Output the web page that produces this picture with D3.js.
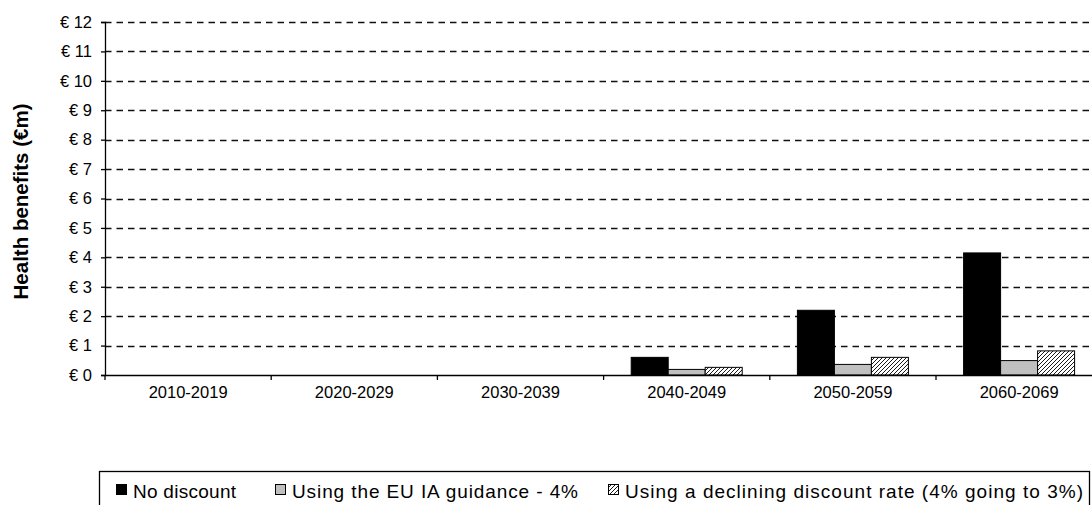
<!DOCTYPE html>
<html>
<head>
<meta charset="utf-8">
<script src="https://cdn.jsdelivr.net/npm/d3@7"></script>
<style>
  html, body { margin: 0; padding: 0; background: #fff; }
  svg { display: block; font-family: "Liberation Sans", Arial, sans-serif; }
</style>
</head>
<body>
<svg id="chart" width="1092" height="505"></svg>
<script>
const categories = ["2010-2019", "2020-2029", "2030-2039", "2040-2049", "2050-2059", "2060-2069"];
const seriesNames = ["No discount", "Using the EU IA guidance - 4%", "Using a declining discount rate (4% going to 3%)"];
const noDiscount = [0, 0, 0, 0.60, 2.20, 4.15];
const euGuidance = [0, 0, 0, 0.19, 0.36, 0.49];
const declining = [0, 0, 0, 0.26, 0.60, 0.82];
const yTicks = [0, 1, 2, 3, 4, 5, 6, 7, 8, 9, 10, 11, 12];

(function () {
const svg = d3.select("#chart");
const defs = svg.append("defs");
const pat = defs.append("pattern")
  .attr("id", "hatch").attr("patternUnits", "userSpaceOnUse")
  .attr("width", 4).attr("height", 4);
pat.append("rect").attr("width", 4).attr("height", 4).attr("fill", "#fff");
pat.append("path").attr("d", "M-1,1 l2,-2 M0,4 l4,-4 M3,5 l2,-2")
  .attr("stroke", "#000").attr("stroke-width", 0.9);

const mLeft = 105, mTop = 22, mBottom = 375;
const bandW = 166.2;
const x = d3.scaleBand().domain(categories).range([mLeft, mLeft + bandW * categories.length]).paddingInner(0).paddingOuter(0);
const y = d3.scaleLinear().domain([0, 12]).range([mBottom, mTop]);
const barW = 37;
const seriesData = [noDiscount, euGuidance, declining];
const fills = ["#000", "#c0c0c0", "url(#hatch)"];
const xSub = d3.scaleBand().domain([0, 1, 2]).range([-1.5 * barW, 1.5 * barW]);

// gridlines
svg.append("g").selectAll("line").data(yTicks.filter(d => d > 0)).join("line")
  .attr("x1", mLeft).attr("x2", 1092)
  .attr("y1", d => Math.round(y(d)) + 0.5).attr("y2", d => Math.round(y(d)) + 0.5)
  .attr("stroke", "#111").attr("stroke-width", 1.4).attr("stroke-dasharray", "6.5,5");

// bars
seriesData.forEach((vals, si) => {
  svg.append("g").selectAll("rect").data(vals.map((v, i) => ({ v, c: categories[i] })).filter(d => d.v > 0)).join("rect")
    .attr("x", d => x(d.c) + x.bandwidth() / 2 + xSub(si))
    .attr("y", d => y(d.v))
    .attr("width", barW)
    .attr("height", d => y(0) - y(d.v))
    .attr("fill", fills[si])
    .attr("stroke", "#000").attr("stroke-width", 1);
});

// y axis
const yAxis = d3.axisLeft(y).tickValues(yTicks).tickSize(4).tickPadding(9)
  .tickFormat(d => "€ " + d);
const yg = svg.append("g").attr("transform", `translate(${mLeft},0)`).call(yAxis);
yg.select(".domain").attr("stroke", "#000").attr("stroke-width", 1.3);
yg.selectAll(".tick line").attr("stroke", "#000").attr("stroke-width", 1.3);
yg.selectAll(".tick text").attr("font-size", 16.5).attr("fill", "#000")
  .attr("font-family", "Liberation Sans, Arial, sans-serif");

// x axis
const xAxis = d3.axisBottom(x).tickSize(0).tickPadding(11);
const xg = svg.append("g").attr("transform", `translate(0,${mBottom})`).call(xAxis);
xg.select(".domain").attr("stroke", "#000").attr("stroke-width", 1.3);
xg.selectAll(".tick text").attr("font-size", 16.5).attr("fill", "#000")
  .attr("font-family", "Liberation Sans, Arial, sans-serif");
// category separators
xg.append("g").selectAll("line").data(categories).join("line")
  .attr("x1", d => x(d)).attr("x2", d => x(d))
  .attr("y1", 0).attr("y2", 5).attr("stroke", "#000").attr("stroke-width", 1.3);

// y label
svg.append("text")
  .attr("transform", `translate(28,${(mTop + mBottom) / 2 + 3}) rotate(-90)`)
  .attr("text-anchor", "middle")
  .attr("font-size", 20.5).attr("font-weight", "bold")
  .text("Health benefits (€m)");

// legend
const lg = svg.append("g");
lg.append("rect").attr("x", 99.5).attr("y", 471.5).attr("width", 990).attr("height", 60)
  .attr("fill", "#fff").attr("stroke", "#000").attr("stroke-width", 1.3);
const legX = [116, 275, 608];
const legW = [103, 286, 458];
seriesNames.forEach((n, i) => {
  lg.append("rect").attr("x", legX[i] + 0.5).attr("y", 484.5).attr("width", 10).attr("height", 10)
    .attr("fill", fills[i]).attr("stroke", "#000").attr("stroke-width", 1);
  lg.append("text").attr("x", legX[i] + 17).attr("y", 498).attr("font-size", 19)
    .attr("textLength", legW[i]).attr("lengthAdjust", "spacing")
    .attr("fill", "#000").text(n);
});
})();
</script>
</body>
</html>
